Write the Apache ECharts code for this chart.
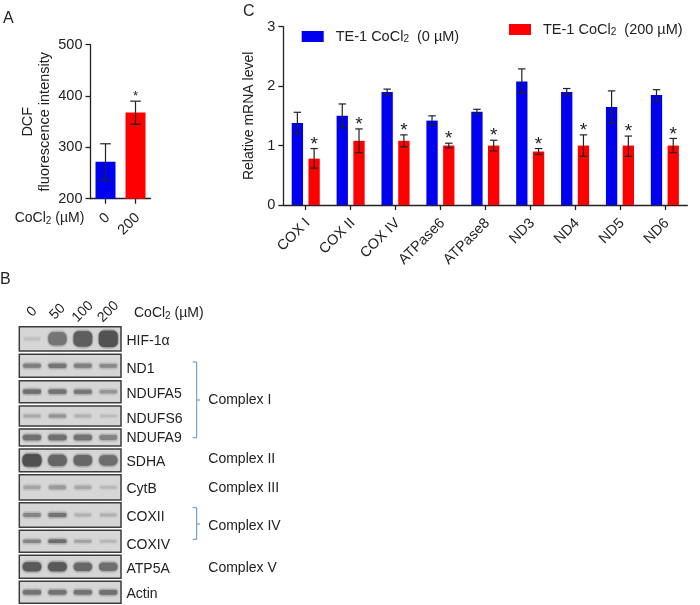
<!DOCTYPE html>
<html><head><meta charset="utf-8">
<style>html,body{margin:0;padding:0;background:#fff}#c{width:700px;height:605px}</style>
<script src="https://cdn.jsdelivr.net/npm/echarts@6/dist/echarts.min.js"></script>
</head><body><div id="c"></div>
<script>
// ---- Panel A data
const aCategories = ['0', '200'];
const aMeans = [272, 368];
const aErrLow = [236, 345];
const aErrHigh = [307, 390];
const aStars = ['', '*'];

// ---- Panel C data
const cCategories = ['COX I','COX II','COX IV','ATPase6','ATPase8','ND3','ND4','ND5','ND6'];
const seriesName0 = 'TE-1 CoCl2 (0 µM)';
const seriesName200 = 'TE-1 CoCl2 (200 µM)';
const cBlue = [1.38,1.50,1.90,1.42,1.57,2.08,1.90,1.65,1.85];
const cBlueLow = [1.20,1.30,1.85,1.34,1.53,1.88,1.84,1.38,1.76];
const cBlueHigh = [1.56,1.70,1.95,1.50,1.61,2.29,1.96,1.92,1.94];
const cRed = [0.78,1.08,1.08,1.00,1.00,0.90,1.00,1.00,1.00];
const cRedLow = [0.62,0.88,0.98,0.96,0.91,0.85,0.82,0.82,0.88];
const cRedHigh = [0.95,1.28,1.18,1.04,1.09,0.95,1.18,1.16,1.12];

// ---- Panel B data (band strength 0..1 per lane)
const lanes = ['0','50','100','200'];
const blotNames = ['HIF-1α','ND1','NDUFA5','NDUFS6','NDUFA9','SDHA','CytB','COXII','COXIV','ATP5A','Actin'];
const blotHIF = [0.03,0.68,0.88,0.98];
const blotND1 = [0.58,0.68,0.58,0.50];
const blotNDUFA5 = [0.72,0.70,0.66,0.40];
const blotNDUFS6 = [0.25,0.42,0.16,0.08];
const blotNDUFA9 = [0.72,0.72,0.70,0.55];
const blotSDHA = [1.00,0.82,0.80,0.74];
const blotCytB = [0.26,0.36,0.24,0.10];
const blotCOXII = [0.55,0.70,0.16,0.16];
const blotCOXIV = [0.55,0.75,0.30,0.12];
const blotATP5A = [0.92,0.92,0.80,0.74];
const blotActin = [0.70,0.70,0.70,0.72];
const blots = [blotHIF,blotND1,blotNDUFA5,blotNDUFS6,blotNDUFA9,blotSDHA,blotCytB,blotCOXII,blotCOXIV,blotATP5A,blotActin];
const complexLabels = ['Complex I','Complex II','Complex III','Complex IV','Complex V'];

// ---- Layout (not data)
const FONT = '"Liberation Sans", Arial, sans-serif';
const INK = '#222';
const rowTop = [326.7,354.3,380.7,406,429,449,474.7,502.7,530.3,555.3,581.3];
const rowBottom = [351,377.3,402.7,426,446,471.7,500,527.3,552.3,578.3,603.3];
const rowLabelY = [341,369,394,419,438,462,489,517,545,569,594];
const rowThick = [15,3.5,3.5,3,5,11,5,3,2.5,8,4];
const complexY = [401.5,460,489,526.7,569];
const BX0 = 19.3, BX1 = 121, BRK = '#5b8fc0';

const errData = (m,l,h,s) => m.map((v,i)=>[i,v,l[i],h[i],s?s[i]:'*']);
function errRender(sign, capFrac, starFont, starGap, showStar){
  return function(params, api){
    const band = api.size([1,0])[0];
    const off = sign*band*0.1865;
    const x = api.coord([api.value(0),0])[0]+off;
    const yL = api.coord([0,api.value(2)])[1];
    const yH = api.coord([0,api.value(3)])[1];
    const cap = band*capFrac;
    const st = {stroke:INK,lineWidth:1.2};
    const kids = [
      {type:'line',shape:{x1:x,y1:yL,x2:x,y2:yH},style:st},
      {type:'line',shape:{x1:x-cap,y1:yL,x2:x+cap,y2:yL},style:st},
      {type:'line',shape:{x1:x-cap,y1:yH,x2:x+cap,y2:yH},style:st}
    ];
    if(showStar) kids.push({type:'text',style:{x:x,y:yH-starGap,text:'*',fontSize:starFont,fontFamily:FONT,fill:INK,align:'center',verticalAlign:'middle'}});
    return {type:'group',children:kids};
  };
}
function errRenderA(params, api){
  const x = api.coord([api.value(0),0])[0];
  const yL = api.coord([0,api.value(2)])[1];
  const yH = api.coord([0,api.value(3)])[1];
  const st = {stroke:INK,lineWidth:1.2};
  const kids = [
    {type:'line',shape:{x1:x,y1:yL,x2:x,y2:yH},style:st},
    {type:'line',shape:{x1:x-5.3,y1:yL,x2:x+5.3,y2:yL},style:st},
    {type:'line',shape:{x1:x-5.3,y1:yH,x2:x+5.3,y2:yH},style:st}
  ];
  const star = api.value(4);
  if(star) kids.push({type:'text',style:{x:x,y:yH-5,text:star,fontSize:13,fontFamily:FONT,fill:INK,align:'center',verticalAlign:'middle'}});
  return {type:'group',children:kids};
}
const axisLine = {show:true,lineStyle:{color:INK,width:1.3}};
const axisTick = {show:true,length:5,lineStyle:{color:INK,width:1.3}};
const legendRich = {a:{fontSize:14.5,color:INK,fontFamily:FONT},b:{fontSize:10,color:INK,fontFamily:FONT,padding:[6,0,0,0]}};
const gRich = {a:{fontSize:14,fill:INK,fontFamily:FONT},b:{fontSize:10,fill:INK,fontFamily:FONT,padding:[6,0,0,0]}};

const option = {
  animation:false, backgroundColor:'#fff',
  textStyle:{fontFamily:FONT,color:INK},
  grid:[
    {left:90.5,top:44.7,width:60,height:154},
    {left:283.3,top:26.7,width:404,height:178.3},
    {left:BX0,top:326.7,width:BX1-BX0,height:276.6}
  ],
  xAxis:[
    {gridIndex:0,type:'category',data:aCategories,axisLine,axisTick:{...axisTick,alignWithLabel:true},
     axisLabel:{rotate:45,fontSize:14.5,color:INK,margin:19,padding:[0,-3,0,0],fontFamily:FONT}},
    {gridIndex:1,type:'category',data:cCategories,axisLine,axisTick:{...axisTick,alignWithLabel:true},
     axisLabel:{rotate:45,fontSize:14.5,color:INK,margin:18,padding:[0,-3,0,0],interval:0,fontFamily:FONT}},
    {gridIndex:2,type:'category',data:lanes,position:'top',axisLine:{show:false},axisTick:{show:false},
     axisLabel:{rotate:-45,fontSize:14,color:INK,margin:15,align:'center',verticalAlign:'middle',interval:0,fontFamily:FONT}}
  ],
  yAxis:[
    {gridIndex:0,type:'value',min:200,max:500,interval:100,splitLine:{show:false},axisLine,axisTick,
     axisLabel:{fontSize:14.5,color:INK,margin:8,fontFamily:FONT},
     name:'DCF\nfluorescence intensity',nameLocation:'middle',nameGap:37,
     nameTextStyle:{fontSize:14.5,color:INK,lineHeight:17,fontFamily:FONT}},
    {gridIndex:1,type:'value',min:0,max:3,interval:1,splitLine:{show:false},axisLine,axisTick,
     axisLabel:{fontSize:14.5,color:INK,margin:8,fontFamily:FONT},
     name:'Relative mRNA level',nameLocation:'middle',nameGap:19,
     nameTextStyle:{fontSize:14,color:INK,fontFamily:FONT}},
    {gridIndex:2,type:'value',inverse:true,min:326.7,max:603.3,show:false}
  ],
  legend:[
    {data:[{name:seriesName0,icon:'rect'}],left:301.7,top:29,padding:0,itemWidth:22,itemHeight:11,
     formatter:()=>'{a|TE-1 CoCl}{b|2}{a|  (0 µM)}',
     textStyle:{padding:[0,0,0,7],rich:legendRich}},
    {data:[{name:seriesName200,icon:'rect'}],left:509,top:22,padding:0,itemWidth:22,itemHeight:11,
     formatter:()=>'{a|TE-1 CoCl}{b|2}{a|  (200 µM)}',
     textStyle:{padding:[0,0,0,7],rich:legendRich}}
  ],
  series:[
    {type:'bar',xAxisIndex:0,yAxisIndex:0,barWidth:20,data:aMeans.map((v,i)=>({value:v,itemStyle:{color:i?'#ff0000':'#0000f0'}}))},
    {type:'custom',name:'errA',xAxisIndex:0,yAxisIndex:0,clip:false,z:5,renderItem:errRenderA,
     data:errData(aMeans,aErrLow,aErrHigh,aStars),encode:{x:0,y:1}},
    {type:'bar',name:seriesName0,xAxisIndex:1,yAxisIndex:1,barWidth:'25.2%',barGap:'48%',itemStyle:{color:'#0000f0'},data:cBlue},
    {type:'bar',name:seriesName200,xAxisIndex:1,yAxisIndex:1,barWidth:'25.2%',barGap:'48%',itemStyle:{color:'#ff0000'},data:cRed},
    {type:'custom',name:'errBlue',xAxisIndex:1,yAxisIndex:1,clip:false,z:5,renderItem:errRender(-1,0.083,19,4,false),
     data:errData(cBlue,cBlueLow,cBlueHigh),encode:{x:0,y:1}},
    {type:'custom',name:'errRed',xAxisIndex:1,yAxisIndex:1,clip:false,z:5,renderItem:errRender(1,0.083,19,4,true),
     data:errData(cRed,cRedLow,cRedHigh),encode:{x:0,y:1}},
    {type:'custom',name:'frames',xAxisIndex:2,yAxisIndex:2,clip:false,z:2,
     data:blotNames.map((n,i)=>[i,rowTop[i],rowBottom[i],rowLabelY[i],n]),encode:{y:1},
     renderItem:(p,api)=>{
       const y0=api.coord([0,api.value(1)])[1], y1=api.coord([0,api.value(2)])[1], yl=api.coord([0,api.value(3)])[1];
       return {type:'group',children:[
         {type:'rect',shape:{x:BX0,y:y0,width:BX1-BX0,height:y1-y0},
          style:{fill:'#d6d6d6',stroke:'#3c3c3c',lineWidth:1.5}},
         {type:'text',style:{x:BX1+5.5,y:yl,text:api.value(4),fontSize:14,fontFamily:FONT,fill:INK,align:'left',verticalAlign:'middle'}}
       ]};
     }},
    {type:'custom',name:'bands',xAxisIndex:2,yAxisIndex:2,clip:true,z:3,
     data:blots.flatMap((r,ri)=>r.map((v,li)=>[li,ri,v])),encode:{x:0},
     renderItem:(p,api)=>{
       const li=api.value(0), ri=api.value(1), v=api.value(2);
       const band=api.size([1,0])[0];
       const cx=api.coord([li,0])[0];
       const cy=(api.coord([0,rowTop[ri]])[1]+api.coord([0,rowBottom[ri]])[1])/2;
       const h=1.5+rowThick[ri]*Math.pow(v,0.7);
       const w=band*(0.72+0.1*v);
       const g=Math.round(195-115*v);
       const col=`rgb(${g},${g},${g})`;
       const halo=`rgba(110,110,110,${0.22*v+0.03})`;
       return {type:'group',children:[
         {type:'rect',shape:{x:cx-w/2,y:cy-h/2-2,width:w,height:h+4,r:(h+4)/2.4},style:{fill:halo,shadowBlur:4,shadowColor:halo}},
         {type:'rect',shape:{x:cx-w/2+1,y:cy-h/2,width:w-2,height:h,r:Math.min(h/2,5)},style:{fill:col,shadowBlur:2,shadowColor:col}}
       ]};
     }}
  ],
  graphic:[
    {type:'text',left:3,top:11,style:{text:'A',fontSize:16,fontFamily:FONT,fill:INK}},
    {type:'text',left:0,top:272,style:{text:'B',fontSize:16,fontFamily:FONT,fill:INK}},
    {type:'text',left:243,top:4,style:{text:'C',fontSize:16,fontFamily:FONT,fill:INK}},
    {type:'text',left:14.7,top:211,style:{text:'{a|CoCl}{b|2}{a| (µM)}',rich:gRich}},
    {type:'text',left:134,top:306,style:{text:'{a|CoCl}{b|2}{a| (µM)}',rich:gRich}},
    ...complexLabels.map((t,i)=>({type:'text',left:208.3,top:complexY[i]-8,style:{text:t,fontSize:14,fontFamily:FONT,fill:INK}})),
    {type:'polyline',shape:{points:[[192.7,362],[196.7,362],[196.7,437.7],[192.7,437.7]]},style:{stroke:BRK,fill:'none',lineWidth:1}},
    {type:'line',shape:{x1:196.7,y1:400,x2:200,y2:400},style:{stroke:BRK,lineWidth:1}},
    {type:'polyline',shape:{points:[[192.7,507.7],[196.7,507.7],[196.7,539.3],[192.7,539.3]]},style:{stroke:BRK,fill:'none',lineWidth:1}},
    {type:'line',shape:{x1:196.7,y1:524,x2:200,y2:524},style:{stroke:BRK,lineWidth:1}}
  ]
};
const chart = echarts.init(document.getElementById('c'),null,{renderer:'canvas'});
chart.setOption(option);
</script></body></html>
